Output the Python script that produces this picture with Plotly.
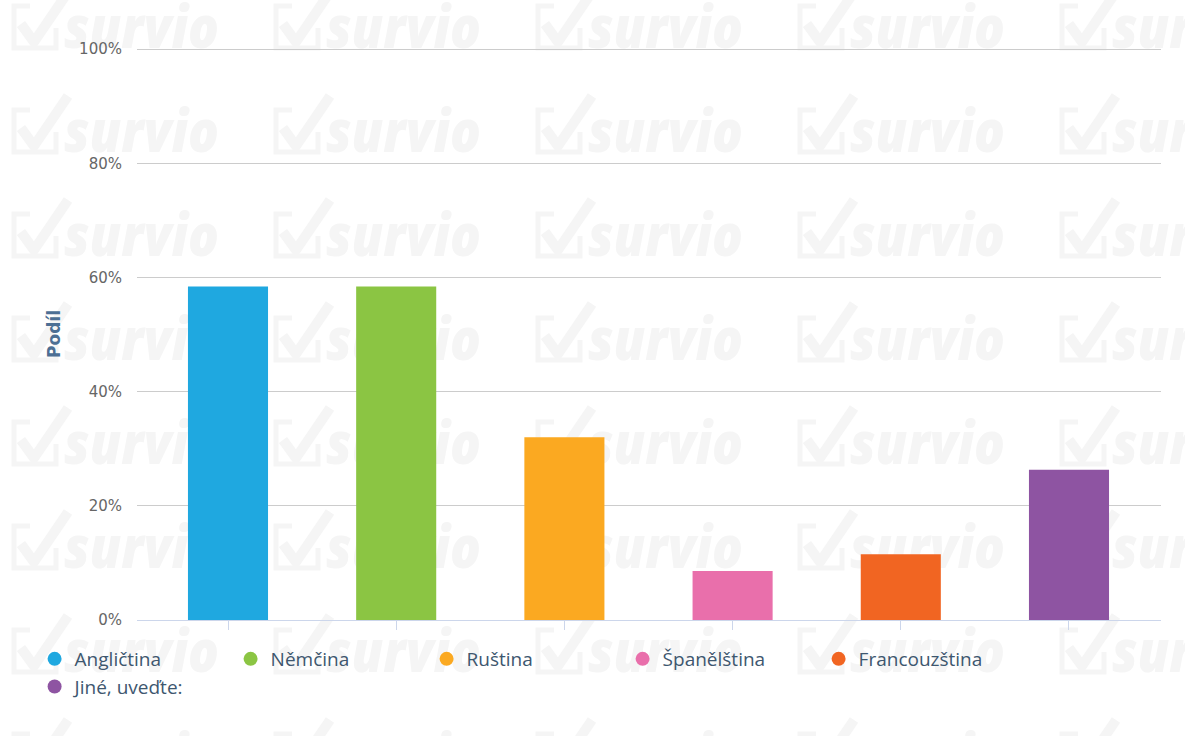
import base64
import plotly.graph_objects as go

categories = ["Angličtina", "Němčina", "Ruština", "Španělština", "Francouzština", "Jiné, uveďte:"]
values = [58.4, 58.4, 32.0, 8.6, 11.5, 26.3]
colors = ["#1fa8e0", "#8bc543", "#fba921", "#e96fab", "#f16522", "#8e54a2"]
y_ticks = [0, 20, 40, 60, 80, 100]
y_tick_labels = [f"{v}%" for v in y_ticks]

W, H = 1185, 736
L, R, T, B = 137, 24, 48, 116

# watermark tile pattern
wm = "#f5f5f5"
parts = []
for cx in [14, 276, 538, 800, 1062]:
    for by in [48, 152, 256, 360, 464, 568, 672, 776]:
        parts.append(
            f'<g transform="translate({cx},{by})">'
            f'<path d="M16,-42 L0,-42 L0,0 L42,0 L42,-20" fill="none" stroke="{wm}" stroke-width="5"/>'
            f'<path d="M7,-24 L20,-6 L54,-56" fill="none" stroke="{wm}" stroke-width="10" stroke-linejoin="round"/>'
            f'<text x="50" y="0" font-family="Open Sans" font-weight="800" font-style="italic" '
            f'font-size="58" fill="{wm}" textLength="155" lengthAdjust="spacingAndGlyphs">survio</text>'
            f'</g>'
        )
svg = f'<svg xmlns="http://www.w3.org/2000/svg" width="{W}" height="{H}" viewBox="0 0 {W} {H}">' + "".join(parts) + "</svg>"
src = "data:image/svg+xml;base64," + base64.b64encode(svg.encode("utf-8")).decode()

pw, ph = W - L - R, H - T - B

fig = go.Figure()
for cat, val, col in zip(categories, values, colors):
    fig.add_trace(go.Bar(x=[cat], y=[val], marker=dict(color=col, line=dict(width=0)),
                         width=0.476, showlegend=False, legendgroup=cat, name=cat,
                         hovertemplate="%{x}: %{y}%<extra></extra>"))
for cat, col in zip(categories, colors):
    fig.add_trace(go.Scatter(x=[None], y=[None], mode="markers", name=cat, legendgroup=cat,
                             marker=dict(color=col, size=14, symbol="circle")))

fig.update_layout(
    width=W, height=H,
    margin=dict(l=L, r=R, t=T, b=B, autoexpand=False),
    paper_bgcolor="white", plot_bgcolor="rgba(0,0,0,0)",
    barmode="overlay",
    font=dict(family="DejaVu Sans", size=14, color="#666666"),
    showlegend=True,
    legend=dict(orientation="h", x=-0.1, xanchor="left", y=-0.035, yanchor="top",
                entrywidth=151, entrywidthmode="pixels", tracegroupgap=0,
                font=dict(family="Open Sans", size=19, color="#3e576f"),
                bgcolor="rgba(0,0,0,0)", itemclick=False, itemdoubleclick=False),
    images=[dict(source=src, xref="paper", yref="paper",
                 x=-L / pw, y=1 + T / ph, sizex=W / pw, sizey=H / ph,
                 xanchor="left", yanchor="top", sizing="stretch", layer="below")],
)
fig.update_xaxes(type="category", categoryorder="array", categoryarray=categories,
                 range=[-0.541, 5.547],
                 showticklabels=False, showgrid=False, showline=True, linecolor="#ccd6eb",
                 linewidth=1, ticks="outside", ticklen=9, tickcolor="#ccd6eb", tickwidth=1,
                 zeroline=False)
fig.update_yaxes(range=[0, 100.2], tickmode="array", tickvals=y_ticks, ticktext=y_tick_labels,
                 showgrid=True, gridcolor="#cccccc", gridwidth=1, zeroline=False, showline=False,
                 ticks="", ticklabelstandoff=14,
                 tickfont=dict(family="DejaVu Sans", size=15, color="#666666"),
                 title=dict(text="<b>Podíl</b>", standoff=14,
                            font=dict(family="DejaVu Sans", size=17, color="#4d6f94")))

fig.write_html("out.html", config={"displayModeBar": False},
               post_script="document.body.style.margin='0';")
